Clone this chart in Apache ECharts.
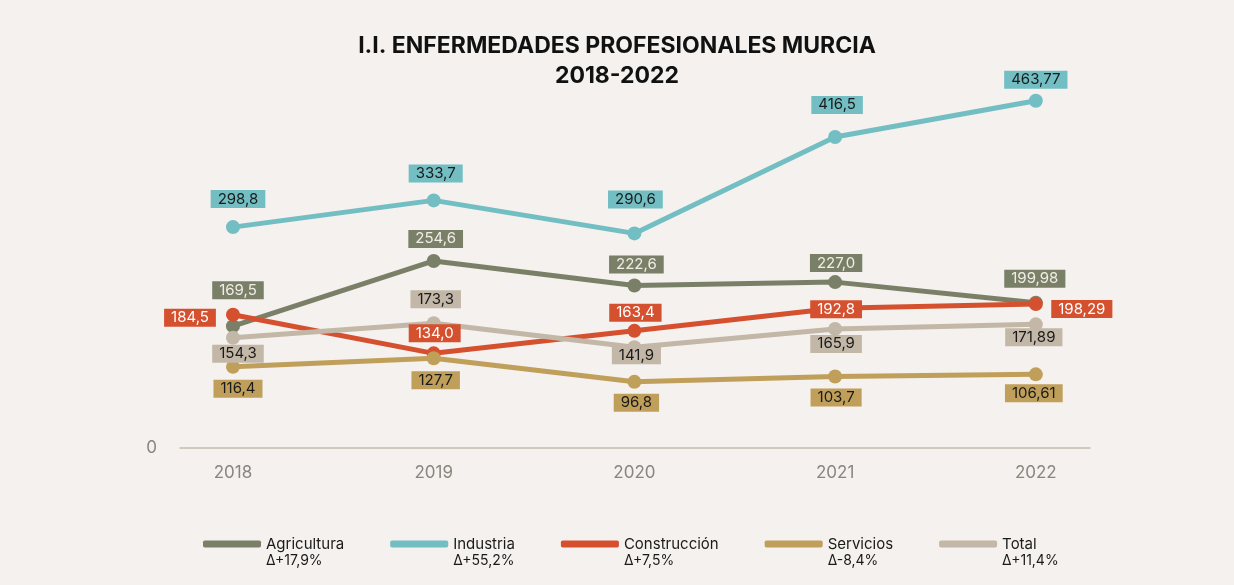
<!DOCTYPE html>
<html>
<head>
<meta charset="utf-8">
<style>
  html, body { margin: 0; padding: 0; background: #f4f1ee; }
  #chart { width: 1234px; height: 585px; }
</style>
<script src="https://cdn.jsdelivr.net/npm/echarts@6/dist/echarts.min.js"></script>
</head>
<body>
<div id="chart"></div>
<script>
var years = ['2018', '2019', '2020', '2021', '2022'];

// values as printed on the chart
var agricultura = ['169.5', '254.6', '222.6', '227.0', '199.98'];
var industria = ['298.8', '333.7', '290.6', '416.5', '463.77'];
var construccion = ['184.5', '134.0', '163.4', '192.8', '198.29'];
var servicios = ['116.4', '127.7', '96.8', '103.7', '106.61'];
var total = ['154.3', '173.3', '141.9', '165.9', '171.89'];

var deltas = ['Δ+17,9%', 'Δ+55,2%', 'Δ+7,5%', 'Δ-8,4%', 'Δ+11,4%'];

// label offsets from the point (style only)
var offAgri = [[5, -36], [2, -22], [2, -21], [1, -19], [-1, -24]];
var offInd = [[5, -28], [2, -27], [1, -34], [2, -32], [0, -21]];
var offCons = [[-43, 3], [1, -20], [1, -18], [1, 1], [46, 5]];
var offServ = [[5, 22], [2, 22], [2, 21], [1, 21], [-2, 19]];
var offTot = [[5, 16], [2, -24], [2, 8], [1, 15], [-2, 13]];

var font = 'Inter, "Noto Sans", sans-serif';

function mkSeries(name, vals, offs, color, txtColor) {
	var data = [];
	for (var i = 0; i < vals.length; i++) {
		data.push({
			value: [i, Number(vals[i])],
			label: { offset: offs[i] }
		});
	}
	return {
		name: name,
		type: 'line',
		data: data,
		symbol: 'circle',
		symbolSize: 14,
		itemStyle: { color: color },
		lineStyle: { color: color, width: 5, cap: 'round' },
		label: {
			show: true,
			position: 'inside',
			backgroundColor: color,
			color: txtColor,
			fontFamily: font,
			fontSize: 15,
			padding: [2, 7, 1, 7],
			formatter: function (p) { return vals[p.dataIndex].replace('.', ','); }
		},
		emphasis: { disabled: true },
		animation: false
	};
}

var names = ['Agricultura', 'Industria', 'Construcción', 'Servicios', 'Total'];

var chart = echarts.init(document.getElementById('chart'));
chart.setOption({
	backgroundColor: '#f4f1ee',
	title: {
		text: 'I.I. ENFERMEDADES PROFESIONALES MURCIA\n2018-2022',
		left: 'center',
		top: 26,
		textStyle: {
			fontFamily: font,
			fontWeight: 'bold',
			fontSize: 23,
			lineHeight: 30,
			color: '#111111'
		}
	},
	legend: {
		bottom: 12,
		left: 198,
		itemWidth: 58,
		itemHeight: 7,
		itemGap: 46,
		icon: 'roundRect',
		data: names,
		formatter: function (n) {
			return '{e| }\n{n|' + n + '}\n{d|' + deltas[names.indexOf(n)] + '}';
		},
		textStyle: {
			fontFamily: font,
			fontSize: 15,
			color: '#1a1a1a',
			rich: {
				e: { fontSize: 15, lineHeight: 17, height: 17 },
				n: { fontSize: 15, lineHeight: 17, fontFamily: font },
				d: { fontSize: 14, lineHeight: 17, fontFamily: font }
			}
		}
	},
	grid: { left: 180, right: 144, top: 73, bottom: 129 },
	xAxis: {
		type: 'value',
		min: -0.264,
		max: 4.27,
		offset: -8,
		axisLine: { show: true, lineStyle: { color: '#c4bcaf', width: 1.5 } },
		axisTick: { show: false },
		splitLine: { show: false },
		axisLabel: {
			customValues: [0, 1, 2, 3, 4],
			formatter: function (v) { return years[Math.round(v)]; },
			color: '#8a867e',
			fontFamily: font,
			fontSize: 17,
			margin: 16
		}
	},
	yAxis: {
		type: 'value',
		min: 0,
		max: 500,
		axisLine: { show: false },
		axisTick: { show: false },
		splitLine: { show: false },
		axisLabel: {
			customValues: [0],
			color: '#8a867e',
			fontFamily: font,
			fontSize: 17,
			margin: 23,
			verticalAlign: 'bottom',
			lineHeight: 16
		}
	},
	series: [
		mkSeries('Agricultura', agricultura, offAgri, '#7a8068', '#f1ede6'),
		mkSeries('Industria', industria, offInd, '#72bec3', '#1a1a1a'),
		mkSeries('Construcción', construccion, offCons, '#d5502e', '#ffffff'),
		mkSeries('Servicios', servicios, offServ, '#c09f5a', '#1a1a1a'),
		mkSeries('Total', total, offTot, '#c3b7a8', '#1a1a1a')
	]
});
</script>
</body>
</html>
